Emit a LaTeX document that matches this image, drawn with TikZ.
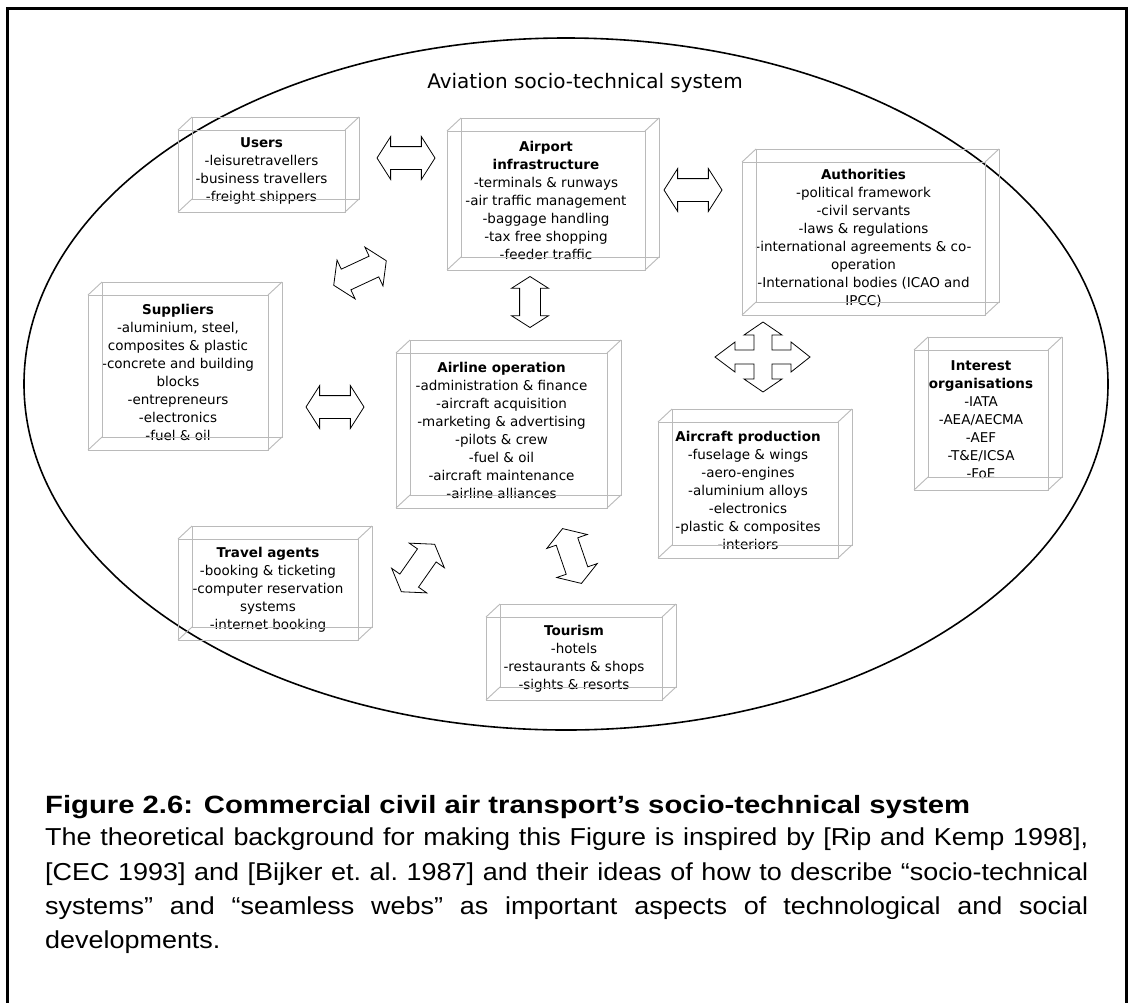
\documentclass[tikz,border=0pt]{standalone}
\usepackage{fontspec}
\setmainfont{Liberation Sans}
\newfontfamily\boxfamily{DejaVu Sans}
\newfontfamily\captitlefont{Liberation Sans}[FakeStretch=1.17]
\newfontfamily\capbodyfont{Liberation Sans}[FakeStretch=1.1]
\usetikzlibrary{shapes.arrows}
\newcommand\dep{14}
\newcommand\threedbox[1]{%
  \draw[boxline] ([shift={(\dep,-13)}]#1.north west) rectangle ([shift={(\dep,-13)}]#1.south east);
  \foreach \a in {north west,north east,south west,south east}
    \draw[boxline] (#1.\a) -- ++(\dep,-13);
}
\begin{document}
\begin{tikzpicture}[x=1pt,y=-1pt,
  boxline/.style={draw=black!27, line width=0.9pt},
  frontbox/.style={boxline, rectangle, outer sep=0pt, inner sep=0pt, align=center,
    font=\boxfamily\fontsize{13.5}{18}\selectfont, text=black},
  dblarrow/.style={double arrow, draw=black, fill=white, line width=0.8pt,
    inner xsep=0pt, inner ysep=11pt, outer sep=0pt, minimum height=58pt, minimum width=0pt,
    double arrow head extend=10pt, double arrow tip angle=115},
  titletext/.style={font=\boxfamily\fontsize{20}{22}\selectfont}
]
\useasboundingbox (0,0) rectangle (1137,1002);
\fill[white] (0,0) rectangle (1137,1002);
\draw[line width=3pt] (7,1012) -- (7,8) -- (1126,8) -- (1126,1012);
\draw[line width=1.6pt] (566,384) ellipse [x radius=542, y radius=346];

\node[titletext] (title) at (585,83) {Aviation socio-technical system};

% boxes (front faces)
\node[frontbox, minimum width=167pt, minimum height=82pt] (users) at (261.5,171)
  {\textbf{Users}\\-leisuretravellers\\-business travellers\\-freight shippers};
\node[frontbox, minimum width=198pt, minimum height=139pt] (airport) at (546,200.5)
  {\textbf{Airport}\\\textbf{infrastructure}\\-terminals \& runways\\-air traffic management\\-baggage handling\\-tax free shopping\\-feeder traffic};
\node[frontbox, minimum width=243pt, minimum height=153pt] (auth) at (863.5,238.5)
  {\textbf{Authorities}\\-political framework\\-civil servants\\-laws \& regulations\\-international agreements \& co-\\operation\\-International bodies (ICAO and\\IPCC)};
\node[frontbox, minimum width=180pt, minimum height=155pt] (suppliers) at (178,372.5)
  {\textbf{Suppliers}\\-aluminium, steel,\\composites \& plastic\\-concrete and building\\blocks\\-entrepreneurs\\-electronics\\-fuel \& oil};
\node[frontbox, minimum width=211pt, minimum height=155pt] (airline) at (501.5,430.5)
  {\textbf{Airline operation}\\-administration \& finance\\-aircraft acquisition\\-marketing \& advertising\\-pilots \& crew\\-fuel \& oil\\-aircraft maintenance\\-airline alliances};
\node[frontbox, minimum width=180pt, minimum height=136pt] (aircraft) at (748,490)
  {\textbf{Aircraft production}\\-fuselage \& wings\\-aero-engines\\-aluminium alloys\\-electronics\\-plastic \& composites\\-interiors};
\node[frontbox, minimum width=134pt, minimum height=140pt] (interest) at (981,420)
  {\textbf{Interest}\\\textbf{organisations}\\-IATA\\-AEA/AECMA\\-AEF\\-T\&E/ICSA\\-FoE};
\node[frontbox, minimum width=180pt, minimum height=101pt] (travel) at (268,589.5)
  {\textbf{Travel agents}\\-booking \& ticketing\\-computer reservation\\systems\\-internet booking};
\node[frontbox, minimum width=176pt, minimum height=83pt] (tourism) at (574,658.5)
  {\textbf{Tourism}\\-hotels\\-restaurants \& shops\\-sights \& resorts};

\threedbox{users}
\threedbox{airport}
\threedbox{auth}
\threedbox{suppliers}
\threedbox{airline}
\threedbox{aircraft}
\threedbox{interest}
\threedbox{travel}
\threedbox{tourism}

% block double arrows
\node[dblarrow] (a1) at (406,158) {};
\node[dblarrow] (a2) at (693,190) {};
\node[dblarrow, minimum height=51pt, inner ysep=10pt, double arrow head extend=8pt, rotate=90] (a3) at (530,302) {};
\node[dblarrow, rotate=25] (a4) at (360,273) {};
\node[dblarrow] (a5) at (335,407) {};
\node[dblarrow, rotate=55] (a7) at (418,568) {};
\node[dblarrow, rotate=109] (a8) at (572,556) {};

% four-way arrow
\draw[fill=white, line width=0.8pt, line join=miter, shift={(763,357)}]
  (0,-35) -- (19,-22) -- (9,-22) -- (9,-7) -- (28,-7) -- (28,-15) -- (47,0)
  -- (28,15) -- (28,7) -- (9,7) -- (9,22) -- (19,22) -- (0,35) -- (-19,22)
  -- (-9,22) -- (-9,7) -- (-28,7) -- (-28,15) -- (-48,0) -- (-28,-15)
  -- (-28,-7) -- (-9,-7) -- (-9,-22) -- (-19,-22) -- cycle;

% caption
\node[anchor=west, inner sep=0pt, font=\captitlefont\bfseries\fontsize{25}{30}\selectfont] (captitle) at (45,807)
  {Figure 2.6: Commercial civil air transport’s socio-technical system};
\node[anchor=north west, inner sep=0pt, text width=1043pt, align=justify,
      font=\capbodyfont\fontsize{24.5}{34.3}\selectfont\frenchspacing] (capbody) at (45,828)
  {The theoretical background for making this Figure is inspired by [Rip and Kemp 1998],\linebreak{}
   [CEC 1993] and [Bijker et. al. 1987] and their ideas of how to describe “socio-technical\linebreak{}
   systems” and “seamless webs” as important aspects of technological and social\linebreak{}
   developments.};
\end{tikzpicture}
\end{document}
